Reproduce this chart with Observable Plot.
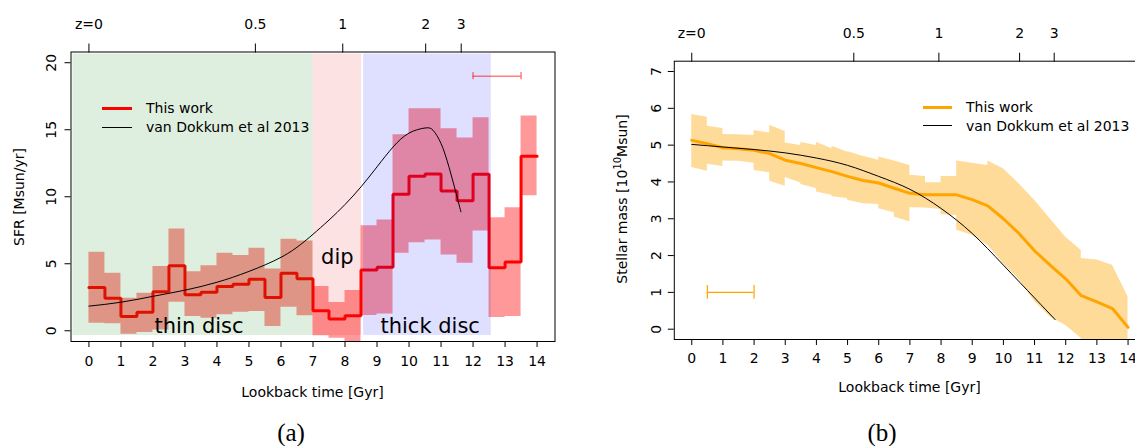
<!DOCTYPE html>
<html>
<head>
<meta charset="utf-8">
<script src="https://cdn.jsdelivr.net/npm/d3@7"></script>
<script src="https://cdn.jsdelivr.net/npm/@observablehq/plot@0.6"></script>
<style>
  html, body { margin: 0; padding: 0; background: #fff; }
  #wrap { position: relative; width: 1135px; height: 446px; overflow: hidden; font-family: "DejaVu Sans", sans-serif; color: #000; }
  #wrap svg { max-width: none !important; }
  .abs { position: absolute; white-space: nowrap; }
  .lbl { font-size: 14px; line-height: 16px; }
  .rot { transform: translate(-50%, -50%) rotate(-90deg); }
  .ctr { transform: translate(-50%, -50%); }
  .cap { font-family: "Liberation Serif", "DejaVu Serif", serif; font-size: 25px; line-height: 28px; }
  .sw { position: absolute; height: 0; }
  sup { font-size: 10px; vertical-align: 6px; line-height: 0; }
</style>
</head>
<body>
<div id="wrap">
  <div id="p1" class="abs" style="left:0;top:0;width:570px;height:446px"></div>
  <div id="p2" class="abs" style="left:570px;top:0;width:576px;height:446px"></div>
</div>
<script>
// ---------- data ----------
// lookback-time bins (start of each 0.5 Gyr bin)
const binStart = [0,0.5,1,1.5,2,2.5,3,3.5,4,4.5,5,5.5,6,6.5,7,7.5,8,8.5,9,9.5,10,10.5,11,11.5,12,12.5,13,13.5];
const binEnd = 14;

// Panel (a): SFR [Msun/yr]
const sfrMedian = [3.22,2.43,1.06,1.39,2.92,4.86,2.68,2.88,3.30,3.47,3.85,2.48,4.29,3.89,1.49,0.87,1.12,4.54,4.74,10.19,11.53,11.70,10.42,9.70,11.68,4.71,5.13,13.02];
const sfrUpper  = [5.85,4.29,2.43,2.80,4.79,7.59,4.41,4.86,5.78,5.61,6.15,4.61,6.82,6.70,3.30,2.11,3.00,7.84,8.26,14.63,16.57,16.57,15.08,14.38,15.90,8.43,9.18,16.02];
const sfrLower  = [0.57,0.52,-0.25,-0.12,0.05,2.13,1.07,0.94,1.19,1.39,1.44,0.32,1.76,1.12,-0.37,-0.55,-1.00,1.14,1.26,5.78,6.57,6.77,5.65,5.03,7.44,0.99,1.07,10.07];

// van Dokkum et al 2013 SFR curve
const vdSfrT = [0,1,2,3,4,5,6,6.62,7,7.5,8,8.5,9,9.5,10,10.5,10.75,11,11.25,11.5,11.62];
const vdSfr  = [1.84,2.13,2.57,3.03,3.62,4.43,5.48,6.45,7.2,8.26,9.42,10.74,12.23,13.71,14.75,15.13,14.96,13.97,12.2,9.99,8.88];

// shaded phases
const phaseName = ["thin disc","dip","thick disc"];
const phaseFrom = [-0.5, 7.0, 8.58];
const phaseTo   = [7.0, 8.52, 12.57];
const phaseLow = -0.35, phaseHigh = 20.65;
const phaseLabelT = [3.44, 7.76, 10.66];
const phaseLabelV = [0.37, 5.45, 0.33];

// typical bin-width error bars
const sfrErrT = [12.0, 13.5], sfrErrV = 19;
const massErrT = [0.5, 2.0], massErrV = 1;

// Panel (b): stellar mass [10^10 Msun]
const massT = [0,0.5,1,1.5,2,2.5,3,3.5,4,4.5,5,5.5,6,6.5,7,7.5,8,8.5,9,9.5,10,10.5,11,11.5,12,12.5,13,13.5,14];
const massMedian = [5.13,5.04,4.93,4.90,4.86,4.77,4.59,4.50,4.39,4.28,4.15,4.04,3.97,3.83,3.69,3.65,3.65,3.65,3.52,3.35,3.00,2.60,2.13,1.74,1.37,0.91,0.74,0.56,0.05];
const massUpStart = [5.83,5.51,5.29,5.28,5.40,5.54,5.06,5.07,5.08,4.97,4.83,4.70,4.68,4.57,4.18,3.98,4.15,4.57,4.51,4.57,4.36,3.95,3.50,3.00,2.50,1.92,1.88,1.74];
const massUpEnd   = [5.76,5.45,5.28,5.26,5.33,5.37,4.99,4.99,4.90,4.81,4.69,4.59,4.57,4.45,4.15,3.98,4.15,4.51,4.45,4.36,3.95,3.50,3.00,2.50,2.14,1.88,1.74,0.88];
const massLoStart = [4.39,4.48,4.57,4.56,4.31,4.02,4.12,3.93,3.73,3.60,3.50,3.41,3.27,3.05,3.30,3.29,3.11,2.69,2.55,2.28,1.78,1.35,0.75,0.33,0.10,-0.30,-0.30,-0.30];
const massLoEnd   = [4.29,4.42,4.56,4.51,4.25,3.88,3.97,3.82,3.64,3.55,3.41,3.39,3.16,2.91,3.29,3.25,3.09,2.55,2.28,1.78,1.35,0.75,0.33,0.10,-0.25,-0.30,-0.30,-0.30];

// van Dokkum et al 2013 mass curve
const vdMassT = [0,1,2,3,4,5,6,7,8,9,10,11,11.66];
const vdMass  = [5.02,4.95,4.88,4.79,4.65,4.45,4.15,3.80,3.28,2.60,1.74,0.85,0.26];

// axes
const xTicks = [0,1,2,3,4,5,6,7,8,9,10,11,12,13,14];
const zLabels = ["z=0","0.5","1","2","3"];
const zLookback = [0, 5.2, 7.93, 10.52, 11.63];
const sfrTicks = [0,5,10,15,20];
const massTicks = [0,1,2,3,4,5,6,7];

// ---------- styles ----------
const phaseColor = ["rgb(0,128,0)", "rgb(230,20,20)", "rgb(0,0,255)"];
const phaseAlpha = 0.125;

// ---------- tables ----------
const sfrRows = binStart.map((t, i) => ({t, m: sfrMedian[i], lo: sfrLower[i], hi: sfrUpper[i]}))
  .concat([{t: binEnd, m: sfrMedian[27], lo: sfrLower[27], hi: sfrUpper[27]}]);
const vdSfrRows = vdSfrT.map((t, i) => ({t, v: vdSfr[i]}));
const phases = phaseName.map((n, i) => ({n, x1: phaseFrom[i], x2: phaseTo[i], c: phaseColor[i], lt: phaseLabelT[i], lv: phaseLabelV[i]}));
const massRows = massT.map((t, i) => ({t, v: massMedian[i]}));
const massBand = [];
binStart.forEach((t, i) => {
  massBand.push({t, lo: massLoStart[i], hi: massUpStart[i]});
  massBand.push({t: t + 0.5, lo: massLoEnd[i], hi: massUpEnd[i]});
});
const vdMassRows = vdMassT.map((t, i) => ({t, v: vdMass[i]}));

const baseStyle = {fontFamily: "DejaVu Sans", fontSize: "14px", color: "black", background: "transparent", overflow: "visible", maxWidth: "none"};

function axesMarks(yTicks, labelDx, topDy, bottomDy) {
  return [
    Plot.axisX({anchor: "bottom", ticks: xTicks, tickSize: 6, tickFormat: () => "", label: null}),
    Plot.axisX({anchor: "top", ticks: zLookback, tickSize: 9, tickFormat: () => "", label: null}),
    Plot.axisY({anchor: "left", ticks: yTicks, tickSize: 6, tickFormat: () => "", label: null}),
    Plot.text(xTicks, {x: d => d, text: d => String(d), frameAnchor: "bottom", dy: bottomDy, lineAnchor: "middle", fontSize: 14, fill: "black"}),
    Plot.text(zLookback, {x: d => d, text: (d, i) => zLabels[i], frameAnchor: "top", dy: topDy, lineAnchor: "middle", fontSize: 14, fill: "black"}),
    Plot.text(yTicks, {y: d => d, text: d => String(d), frameAnchor: "left", dx: labelDx, rotate: -90, textAnchor: "middle", lineAnchor: "middle", fontSize: 14, fill: "black"}),
    Plot.frame({stroke: "black"})
  ];
}

// ---------- panel (a) ----------
const p1 = Plot.plot({
  width: 570, height: 446,
  marginLeft: 70.5, marginRight: 15.5, marginTop: 51.5, marginBottom: 105,
  x: {domain: [-0.56, 14.56]},
  y: {domain: [-0.8, 20.8]},
  style: baseStyle,
  marks: [
    Plot.areaY(sfrRows, {x: "t", y1: "lo", y2: "hi", curve: "step-after", fill: "red", fillOpacity: 0.4, clip: true}),
    Plot.line(sfrRows, {x: "t", y: "m", curve: "step-after", stroke: "red", strokeWidth: 3, strokeLinejoin: "miter", clip: true}),
    Plot.rect(phases, {x1: "x1", x2: "x2", y1: () => phaseLow, y2: () => phaseHigh, fill: d => d.c, fillOpacity: phaseAlpha}),
    Plot.line(vdSfrRows, {x: "t", y: "v", curve: "natural", stroke: "black", strokeWidth: 1}),
    Plot.text(phases, {x: "lt", y: "lv", text: "n", fontSize: 21, lineAnchor: "middle", fill: "black"}),
    Plot.ruleY([sfrErrV], {x1: sfrErrT[0], x2: sfrErrT[1], stroke: "red", strokeOpacity: 0.5, strokeWidth: 1.5}),
    Plot.ruleX(sfrErrT, {x: d => d, y1: sfrErrV - 0.27, y2: sfrErrV + 0.27, stroke: "red", strokeOpacity: 0.5, strokeWidth: 1.5}),
    ...axesMarks(sfrTicks, -19, -27.5, 20)
  ]
});
document.getElementById("p1").appendChild(p1);

// ---------- panel (b) ----------
const p2 = Plot.plot({
  width: 576, height: 446,
  marginLeft: 103.8, marginRight: 1, marginTop: 60.7, marginBottom: 107,
  x: {domain: [-0.56, 14.56]},
  y: {domain: [-0.28, 7.28]},
  style: baseStyle,
  marks: [
    Plot.areaY(massBand, {x: "t", y1: "lo", y2: "hi", fill: "orange", fillOpacity: 0.4, clip: true}),
    Plot.line(massRows, {x: "t", y: "v", stroke: "orange", strokeWidth: 3, clip: true}),
    Plot.line(vdMassRows, {x: "t", y: "v", curve: "natural", stroke: "black", strokeWidth: 1}),
    Plot.ruleY([massErrV], {x1: massErrT[0], x2: massErrT[1], stroke: "orange", strokeWidth: 1.2}),
    Plot.ruleX(massErrT, {x: d => d, y1: massErrV - 0.19, y2: massErrV + 0.19, stroke: "orange", strokeWidth: 1.2}),
    ...axesMarks(massTicks, -17.6, -27.4, 18.7)
  ]
});
document.getElementById("p2").appendChild(p2);

// ---------- titles, captions, legends ----------
const wrap = document.getElementById("wrap");
function addText(html, x, y, cls) {
  const d = document.createElement("div");
  d.className = "abs " + cls;
  d.style.left = x + "px";
  d.style.top = y + "px";
  d.innerHTML = html;
  wrap.appendChild(d);
}
function addSwatch(x, y, w, color, thick) {
  const d = document.createElement("div");
  d.className = "sw";
  d.style.left = x + "px";
  d.style.top = (y - thick / 2) + "px";
  d.style.width = w + "px";
  d.style.borderTop = thick + "px solid " + color;
  wrap.appendChild(d);
}
addText("SFR [Msun/yr]", 19, 197, "lbl rot");
addText("Stellar mass [10<sup>10</sup>Msun]", 621.5, 199, "lbl rot");
addText("Lookback time [Gyr]", 312.5, 391.5, "lbl ctr");
addText("Lookback time [Gyr]", 909.5, 386.7, "lbl ctr");
addText("(a)", 291, 433, "cap ctr");
addText("(b)", 882, 433, "cap ctr");

const legendNames = ["This work", "van Dokkum et al 2013"];
addSwatch(102, 108.3, 30, "red", 3);
addSwatch(102, 127.3, 30, "black", 1);
addText(legendNames[0], 146, 100.3, "lbl");
addText(legendNames[1], 146, 119.3, "lbl");
addSwatch(923, 107.3, 29, "orange", 3);
addSwatch(923, 125.7, 29, "black", 1);
addText(legendNames[0], 966, 99.3, "lbl");
addText(legendNames[1], 966, 117.7, "lbl");
</script>
</body>
</html>
